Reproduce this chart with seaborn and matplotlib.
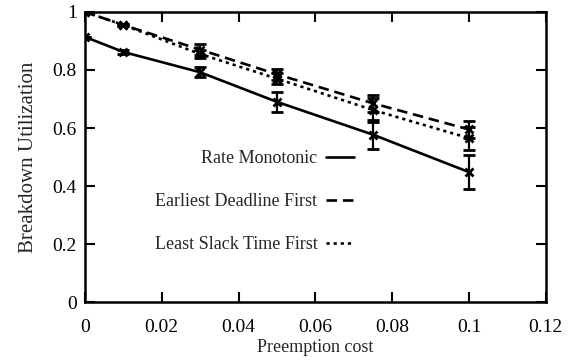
import matplotlib
matplotlib.use("Agg")
import matplotlib.pyplot as plt
import seaborn as sns
import pandas as pd
from matplotlib.lines import Line2D

# Preemption cost values
cost = [0.0, 0.01, 0.03, 0.05, 0.075, 0.1]

# Breakdown utilization per scheduling policy, with error half-widths
rm_util = [0.914, 0.862, 0.792, 0.690, 0.577, 0.448]
rm_err = [0.0, 0.008, 0.017, 0.034, 0.050, 0.058]

edf_util = [1.0, 0.955, 0.870, 0.785, 0.685, 0.595]
edf_err = [0.0, 0.005, 0.020, 0.020, 0.030, 0.028]

lst_util = [1.0, 0.955, 0.855, 0.770, 0.662, 0.565]
lst_err = [0.0, 0.005, 0.015, 0.020, 0.040, 0.040]

policies = ["Rate Monotonic", "Earliest Deadline First", "Least Slack Time First"]
x_ticks = [0, 0.02, 0.04, 0.06, 0.08, 0.1, 0.12]
x_tick_labels = ["0", "0.02", "0.04", "0.06", "0.08", "0.1", "0.12"]
y_ticks = [0, 0.2, 0.4, 0.6, 0.8, 1.0]
y_tick_labels = ["0", "0.2", "0.4", "0.6", "0.8", "1"]

sns.set_theme(style="ticks")
plt.rcParams["font.family"] = ["Liberation Serif", "DejaVu Serif"]

df = pd.concat([
    pd.DataFrame({"cost": cost, "util": rm_util, "err": rm_err, "policy": policies[0]}),
    pd.DataFrame({"cost": cost, "util": edf_util, "err": edf_err, "policy": policies[1]}),
    pd.DataFrame({"cost": cost, "util": lst_util, "err": lst_err, "policy": policies[2]}),
], ignore_index=True)

dashes = {
    policies[0]: None,
    policies[1]: (4, 2.2),
    policies[2]: (1.2, 1.5),
}

fig = plt.figure(figsize=(5.74, 3.61), dpi=100)
ax = fig.add_axes([0.148, 0.163, 0.803, 0.804])

handles = []
for name in policies:
    sub = df[df["policy"] == name]
    dash = dashes[name]
    sns.lineplot(data=sub, x="cost", y="util", ax=ax, color="black",
                 linewidth=1.9, legend=False)
    line = ax.get_lines()[-1]
    if dash is not None:
        line.set_dashes(dash)
    ax.errorbar(sub["cost"], sub["util"], yerr=sub["err"], fmt="x",
                color="black", markersize=6, markeredgewidth=2.0,
                elinewidth=1.6, capsize=4, capthick=1.6)
    h = Line2D([0], [0], color="black", linewidth=1.9)
    if dash is not None:
        h.set_dashes(dash)
    handles.append(h)

ax.set_xlim(0, 0.12)
ax.set_ylim(0, 1)
ax.set_xticks(x_ticks)
ax.set_xticklabels(x_tick_labels)
ax.set_yticks(y_ticks)
ax.set_yticklabels(y_tick_labels)
ax.tick_params(direction="in", length=7, width=1.5, top=True, right=True,
               labelsize=14, colors="black")
ax.tick_params(axis="x", pad=12)
ax.tick_params(axis="y", pad=6)
for s in ax.spines.values():
    s.set_visible(True)
    s.set_linewidth(1.8)
    s.set_color("black")

ax.set_xlabel("Preemption cost", fontsize=13, labelpad=2)
ax.set_ylabel("Breakdown Utilization", fontsize=15, labelpad=10)

ax.legend(handles, policies, loc="upper right",
          bbox_to_anchor=(0.62, 0.58), markerfirst=False, frameon=False,
          fontsize=13, handlelength=1.6, handletextpad=0.45, labelspacing=1.45)

fig.savefig("out.png", dpi=100)
